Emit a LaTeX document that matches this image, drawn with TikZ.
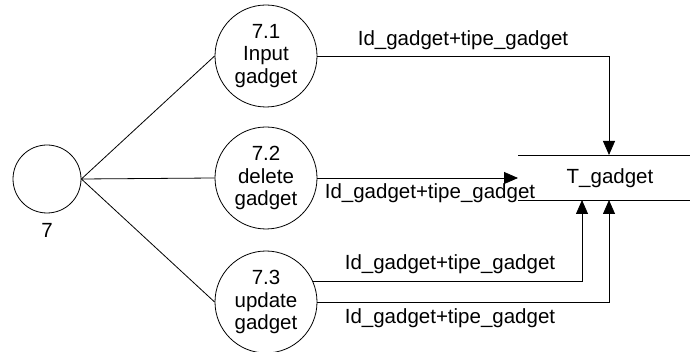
\documentclass[tikz,border=0pt]{standalone}
\usepackage{fontspec}
\setmainfont{Liberation Sans}
\usetikzlibrary{arrows.meta}
\begin{document}
\begin{tikzpicture}[x=1pt,y=-1pt,
  every node/.style={font=\fontsize{20.5}{22.5}\selectfont, inner sep=0pt},
  proc/.style={draw, circle, minimum size=102pt, align=center, line width=0.8pt},
  ent/.style={draw, circle, minimum size=68pt, line width=0.8pt},
  conn/.style={line width=0.8pt},
  flow/.style={line width=0.8pt, -{Triangle[length=14pt,width=12pt]}},
  lbl/.style={anchor=center}]
\useasboundingbox (0,0) rectangle (690,352);
\node[ent] (c7) at (47,179) {};
\node (l7) at (47,230) {7};
\node[proc] (c71) at (266,56) {7.1\\Input\\gadget};
\node[proc] (c72) at (266,178) {7.2\\delete\\gadget};
\node[proc] (c73) at (266,302) {7.3\\update\\gadget};
\coordinate (stTL) at (518,155);
\coordinate (stTR) at (690,155);
\coordinate (stBL) at (518,200);
\coordinate (stBR) at (690,200);
\draw[conn] (stTL) -- (stTR);
\draw[conn] (stBL) -- (stBR);
\node (st) at (610,178) {T\_gadget};
\coordinate (a1) at (609,155);
\coordinate (a2) at (518,178);
\coordinate (a3) at (582,200);
\coordinate (a4) at (609,200);
\draw[conn] (c7.east) -- (c71.west);
\draw[conn] (c7.east) -- (c72.west);
\draw[conn] (c7.east) -- (c73.west);
\draw[flow] (c71.east) -| (a1);
\draw[flow] (c72.east) -- (a2);
\draw[flow] (c73.24) -| (a3);
\draw[flow] (c73.east) -| (a4);
\node[lbl] (t1) at (463,40) {Id\_gadget+tipe\_gadget};
\node[lbl] (t2) at (430,193) {Id\_gadget+tipe\_gadget};
\node[lbl] (t3) at (450,264) {Id\_gadget+tipe\_gadget};
\node[lbl] (t4) at (450,318) {Id\_gadget+tipe\_gadget};
\end{tikzpicture}
\end{document}
